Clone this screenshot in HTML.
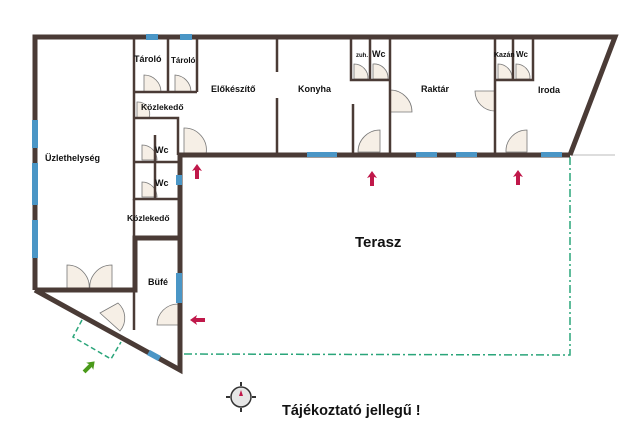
<!DOCTYPE html>
<html><head><meta charset="utf-8"><style>
html,body{margin:0;padding:0;background:#fff;width:640px;height:442px;overflow:hidden}
text{font-family:"Liberation Sans",sans-serif;font-weight:bold;fill:#111}
</style></head><body>
<svg width="640" height="442" viewBox="0 0 640 442" xmlns="http://www.w3.org/2000/svg">
<defs>
<g id="upArrow"><path d="M0,-8 L5,-1 L2,-2 L2,7 L-2,7 L-2,-2 L-5,-1 Z" fill="#c0184a"/></g>
</defs>
<line x1="570" y1="155" x2="615" y2="155" stroke="#bbb" stroke-width="1"/>
<path d="M570,157 L570,355 L182,354" fill="none" stroke="#2aa57a" stroke-width="1.5" stroke-dasharray="8,3,2,3"/>
<path d="M82,320 L73,337 L111,359 L121,342" fill="none" stroke="#2aa57a" stroke-width="1.5" stroke-dasharray="5,3"/>
<g fill="#f6efe6" stroke="#777" stroke-width="0.8">
<path d="M67,290 L67,265 A22,22 0 0 1 89,290 Z"/>
<path d="M112,290 L112,265 A22,22 0 0 0 90,290 Z"/>
<path d="M144,92 L144,75 A17,17 0 0 1 161,92 Z"/>
<path d="M175,92 L175,75 A17,17 0 0 1 191,92 Z"/>
<path d="M184,154 L184,128 A22,22 0 0 1 206,154 Z"/>
<path d="M142,160 L142,145 A15,15 0 0 1 157,160 Z"/>
<path d="M142,197 L142,182 A15,15 0 0 1 157,197 Z"/>
<path d="M137,118 L137,102 A12,12 0 0 1 149,118 Z"/>
<path d="M380,152 L380,130 A22,22 0 0 0 358,152 Z"/>
<path d="M390,112 L412,112 A22,22 0 0 0 390,90 Z"/>
<path d="M495,91 L475,91 A20,20 0 0 0 495,111 Z"/>
<path d="M527,152 L527,130 A21,21 0 0 0 506,152 Z"/>
<path d="M354,79 L354,64 A14,14 0 0 1 368,79 Z"/>
<path d="M373,79 L373,64 A14,14 0 0 1 388,79 Z"/>
<path d="M498,79 L498,64 A14,14 0 0 1 512,79 Z"/>
<path d="M516,79 L516,64 A14,14 0 0 1 530,79 Z"/>
<path d="M178,325 L157,325 A21,21 0 0 1 178,304 Z"/>
<path d="M100,313 L118,303 A20,20 0 0 1 120,331 Z"/>
</g>
<g stroke="#4a3b36" stroke-width="5" fill="none" stroke-linejoin="miter">
<path d="M35,290 L35,37 L615,37 L570,155"/>
<path d="M35,290 L180,370 L180,155 L570,155"/>
<path d="M35,290 L135,290 L135,238 L178,238"/>
</g>
<g stroke="#4a3b36" stroke-width="2.5" fill="none">
<path d="M134,37 L134,199 L178,199"/>
<path d="M168,37 L168,92 M197,37 L197,92 M134,92 L197,92"/>
<path d="M134,118 L178,118 L178,155"/>
<path d="M155,135 L155,199 M134,162 L178,162"/>
<path d="M277,37 L277,72 M277,98 L277,154"/>
<path d="M351,37 L351,80 L390,80 M370,37 L370,80 M390,37 L390,154 M353,104 L353,154"/>
<path d="M495,37 L495,154 M495,80 L533,80 L533,37 M513,37 L513,80"/>
<path d="M134,199 L134,238"/>
<path d="M134,290 L134,330"/>
</g>
<g fill="#4a96c6">
<rect x="146" y="34" width="12" height="6"/><rect x="180" y="34" width="12" height="6"/>
<rect x="32" y="120" width="6" height="28"/><rect x="32" y="163" width="6" height="42"/><rect x="32" y="220" width="6" height="38"/>
<rect x="307" y="152" width="30" height="5"/><rect x="416" y="152" width="21" height="5"/><rect x="456" y="152" width="21" height="5"/><rect x="541" y="152" width="21" height="5"/>
<rect x="176" y="175" width="6" height="10"/><rect x="176" y="273" width="6" height="30"/>
<path d="M150,350 L161,356 L158,361 L147,355 Z"/>
</g>
<use href="#upArrow" x="197" y="172"/>
<use href="#upArrow" x="372" y="179"/>
<use href="#upArrow" x="518" y="178"/>
<use href="#upArrow" transform="translate(198,320) rotate(-90)"/>
<path d="M0,-8 L5,-1 L2,-2 L2,7 L-2,7 L-2,-2 L-5,-1 Z" fill="#4a9a1a" transform="translate(89,367) rotate(45)"/>
<g transform="translate(241,397)">
<circle r="10" fill="#e6e6e6" stroke="#333" stroke-width="1.5"/>
<path d="M0,-11 L0,-15 M0,11 L0,15 M-11,0 L-15,0 M11,0 L15,0" stroke="#333" stroke-width="2"/>
<path d="M0,-7 L2,-1 L-2,-1 Z" fill="#c0184a"/>
</g>
<g font-size="9">
<text x="134" y="62">Tároló</text>
<text x="171" y="63" font-size="8">Tároló</text>
<text x="141" y="110" font-size="8.5">Közlekedő</text>
<text x="211" y="92">Előkészítő</text>
<text x="298" y="92">Konyha</text>
<text x="421" y="92">Raktár</text>
<text x="538" y="93">Iroda</text>
<text x="45" y="161">Üzlethelység</text>
<text x="155" y="153">Wc</text>
<text x="155" y="186">Wc</text>
<text x="127" y="221" font-size="8.5">Közlekedő</text>
<text x="148" y="285">Büfé</text>
<text x="356" y="57" font-size="6">zuh.</text>
<text x="372" y="57">Wc</text>
<text x="494" y="57" font-size="7">Kazán</text>
<text x="516" y="57" font-size="8">Wc</text>
</g>
<text x="355" y="247" font-size="15">Terasz</text>
<text x="282" y="415" font-size="14.5">Tájékoztató jellegű !</text>
</svg>
</body></html>
